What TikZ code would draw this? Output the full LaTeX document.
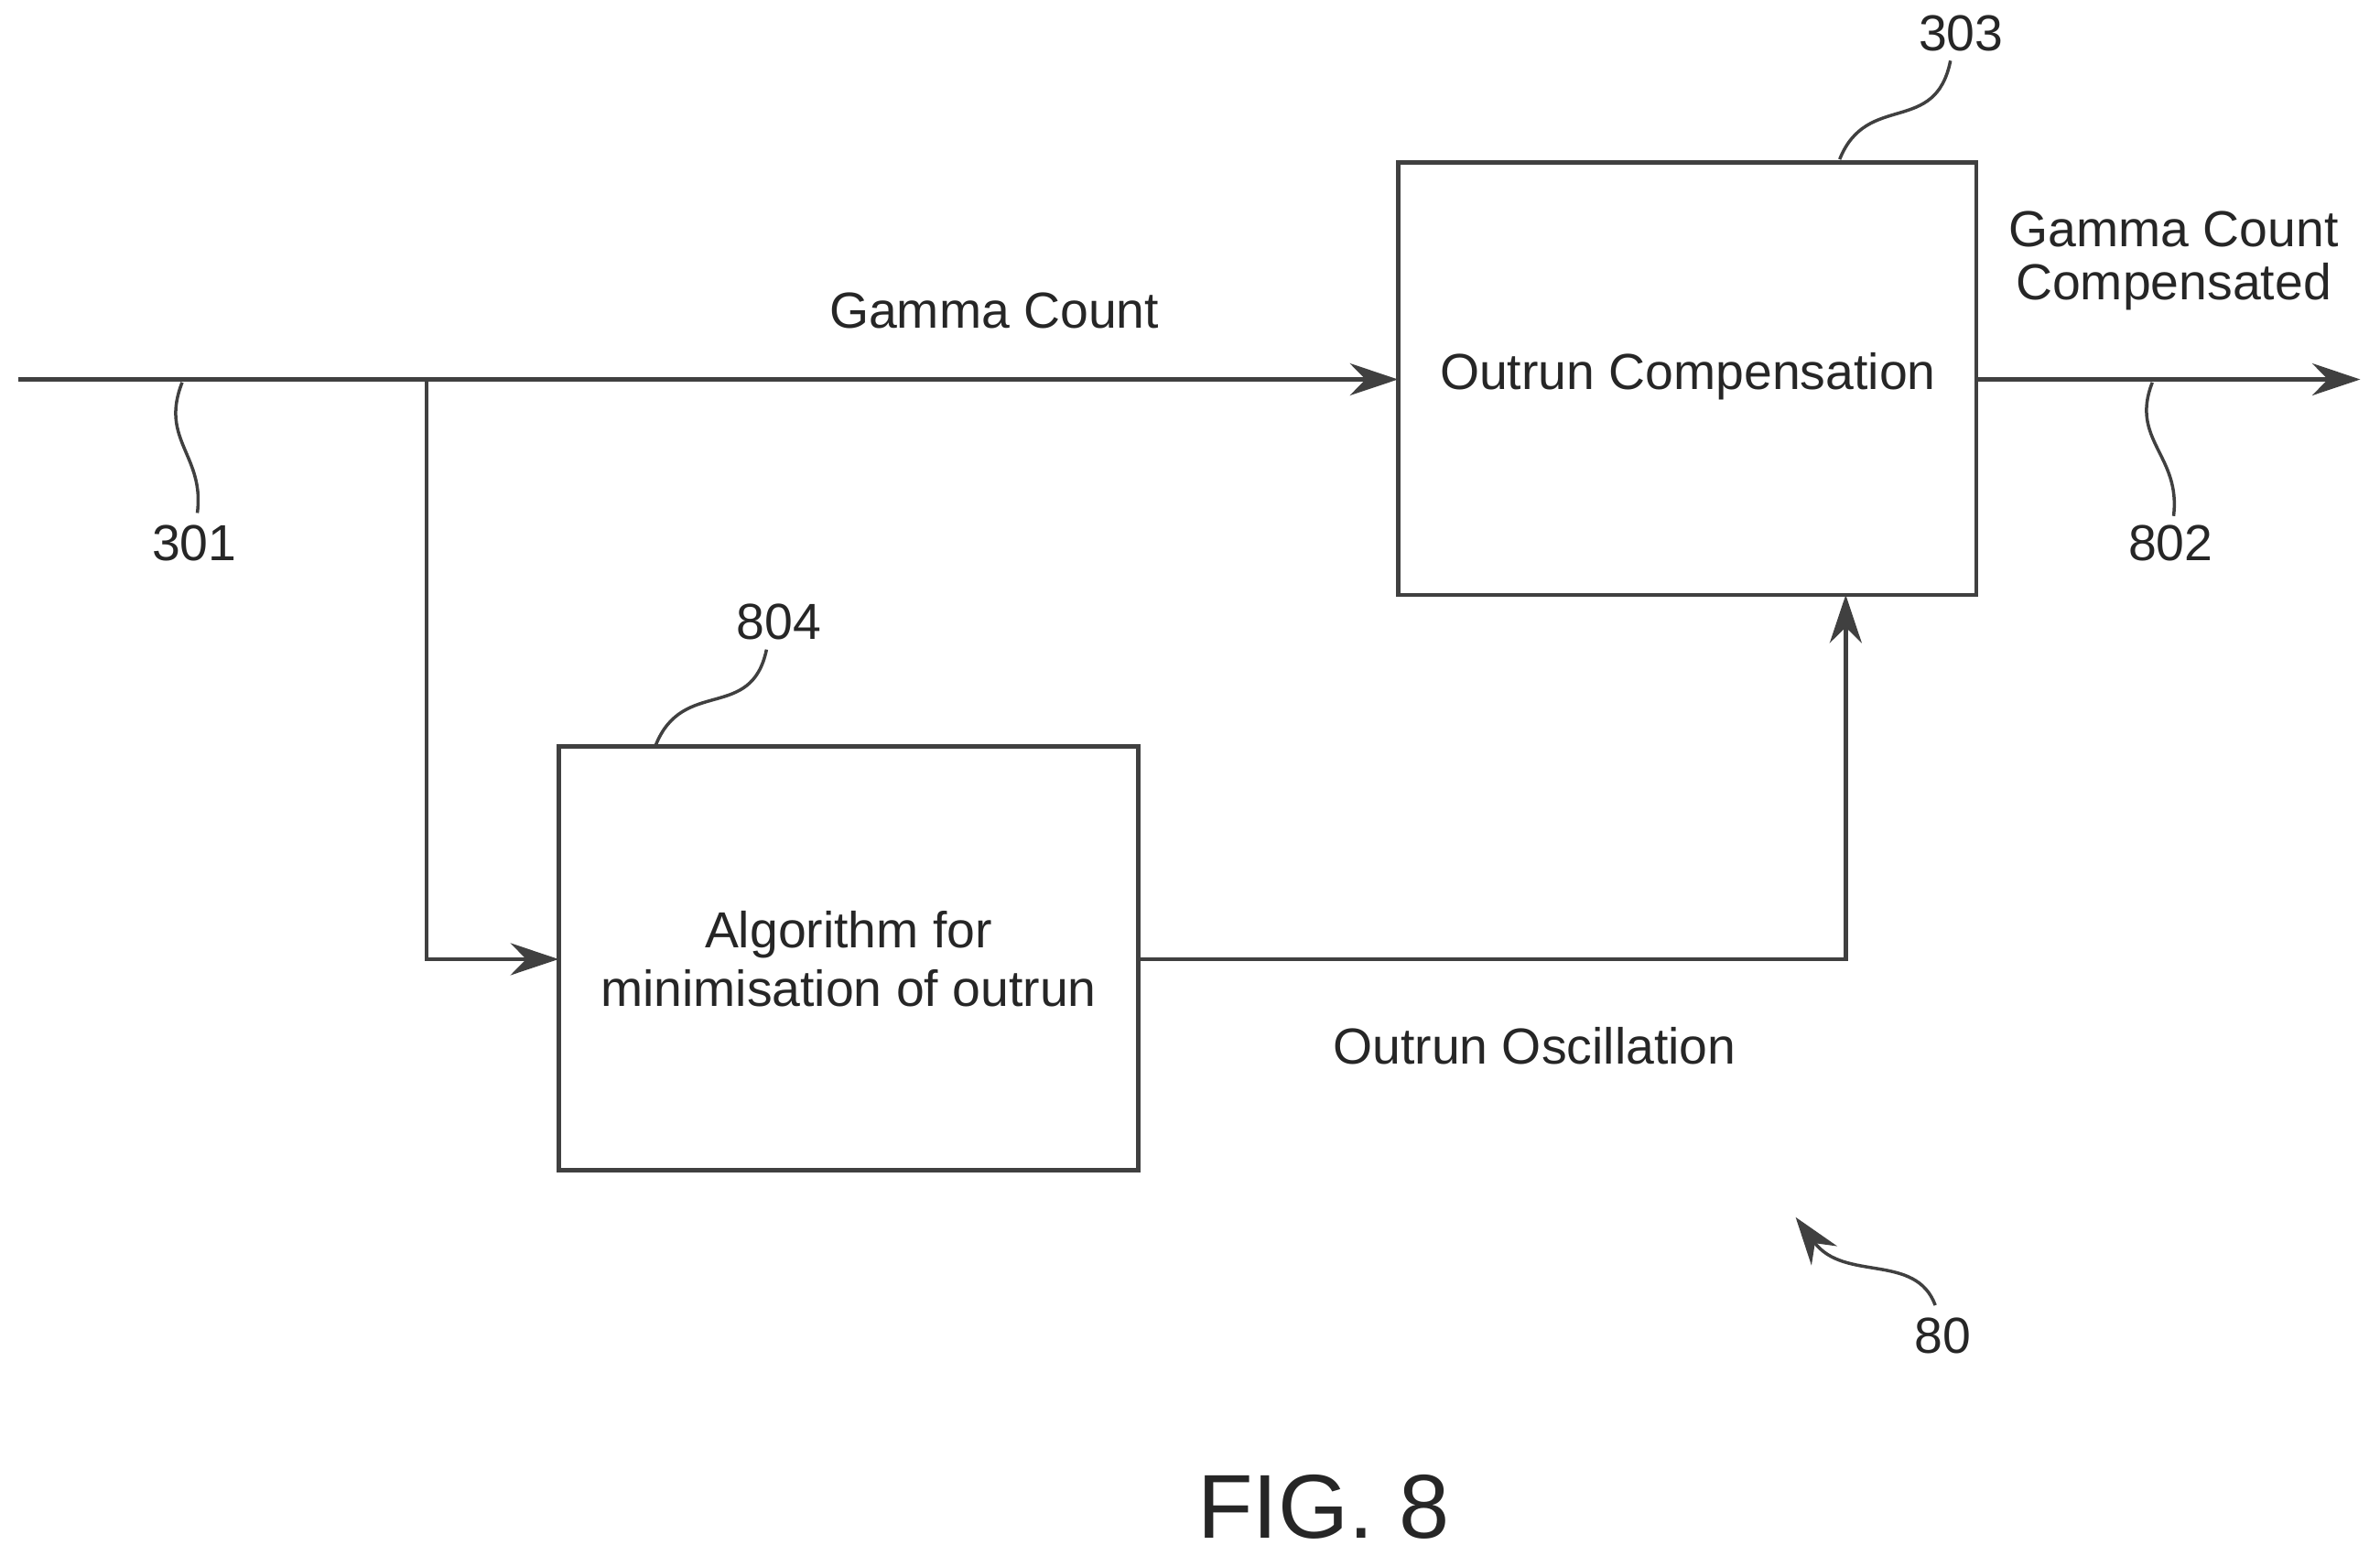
\documentclass[tikz,border=0pt]{standalone}
\usepackage{fontspec}
\setmainfont{Liberation Sans}
\usetikzlibrary{arrows.meta}
\begin{document}
\begin{tikzpicture}[x=0.1mm,y=-0.1mm,
  ln/.style={draw=black!75,line width=0.8pt},
  arr/.style={ln,-{Stealth[length=9pt,width=6pt]}},
  box/.style={ln,fill=white},
  lbl/.style={font=\fontsize{9.5}{11}\selectfont,text=black!85,align=center},
  sq/.style={ln,line width=0.6pt}]
\useasboundingbox (0,0) rectangle (1568,1025);
\coordinate (in) at (12,250);
\coordinate (br) at (281,250);
\coordinate (out) at (1555,250);
\draw[box] (921,107) rectangle (1302,392);
\coordinate (b1w) at (921,250); \coordinate (b1e) at (1302,250); \coordinate (b1s) at (1216,392);
\draw[box] (368,492) rectangle (750,771);
\coordinate (b2w) at (368,632); \coordinate (b2e) at (750,632);
\node[lbl] (t1) at (1112,248) {Outrun Compensation};
\node[lbl] (t2) at (559,632) {Algorithm for\\minimisation of outrun};
\draw[arr] (in) -- (b1w);
\draw[arr] (br) |- (b2w);
\draw[arr] (b2e) -| (b1s);
\draw[arr] (b1e) -- (out);
\node[lbl] (gc) at (655,205) {Gamma Count};
\node[lbl] (gcc) at (1432,172) {Gamma Count\\[-1pt]Compensated};
\node[lbl] (oo) at (1011,689) {Outrun Oscillation};
\node[lbl] (n301) at (128,358) {301};
\node[lbl] (n802) at (1430,358) {802};
\node[lbl] (n303) at (1292,22) {303};
\node[lbl] (n804) at (513,410) {804};
\node[lbl] (n80) at (1280,880) {80};
\node[font=\fontsize{17}{20}\selectfont,text=black!85] (fig) at (872,993) {FIG. 8};
\draw[sq] (120,252) .. controls (105,290) and (135,300) .. (130,338);
\draw[sq] (1418,252) .. controls (1403,290) and (1437,300) .. (1432,340);
\draw[sq] (1212,105) .. controls (1230,60) and (1275,90) .. (1285,40);
\draw[sq] (432,491) .. controls (450,446) and (495,476) .. (505,428);
\draw[sq,-{Stealth[length=9pt,width=6pt]}] (1275,860) .. controls (1262,825) and (1215,845) .. (1183,802);
\end{tikzpicture}
\end{document}
